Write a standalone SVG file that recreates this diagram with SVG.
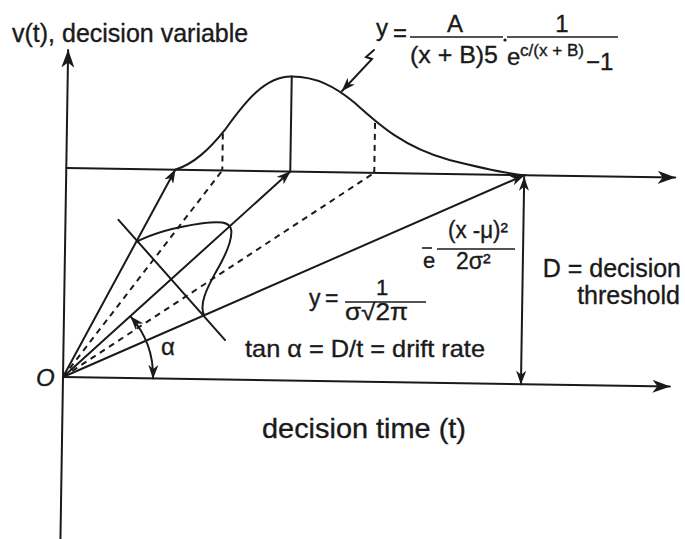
<svg xmlns="http://www.w3.org/2000/svg" width="685" height="539" viewBox="0 0 685 539">
<defs>
<marker id="ah" viewBox="0 0 14 10" refX="13.5" refY="5" markerWidth="14" markerHeight="10" markerUnits="userSpaceOnUse" orient="auto-start-reverse"><path d="M0,0 L14,5 L0,10 L4,5 Z" fill="#1a1a1a"/></marker>
<marker id="axh" viewBox="0 0 18 13" refX="17.5" refY="6.5" markerWidth="18" markerHeight="13" markerUnits="userSpaceOnUse" orient="auto"><path d="M0,0 L18,6.5 L0,13 L5,6.5 Z" fill="#1a1a1a"/></marker>
</defs>
<style>
.ln{stroke:#1a1a1a;stroke-width:2;fill:none;stroke-linecap:round}
.ds{stroke:#1a1a1a;stroke-width:2;fill:none;stroke-dasharray:6 5}
.bar{stroke:#1a1a1a;stroke-width:1.6}
text{font-family:"Liberation Sans",Arial,sans-serif;fill:#1a1a1a;stroke:#1a1a1a;stroke-width:0.35}
</style>
<rect width="685" height="539" fill="#fff"/>
<g id="plot" transform="rotate(0.9 63 377)">
 <g id="axes">
  <line class="ln" x1="63" y1="545" x2="63" y2="50" marker-end="url(#axh)"/>
  <line class="ln" x1="63" y1="377" x2="670" y2="377" marker-end="url(#axh)"/>
  <line class="ln" x1="63" y1="168" x2="672" y2="168" marker-end="url(#axh)"/>
 </g>
 <g id="connectors">
  <line class="ln" x1="63" y1="377" x2="172" y2="168" marker-end="url(#ah)"/>
  <line class="ds" x1="63" y1="377" x2="219" y2="168"/>
  <line class="ln" x1="63" y1="377" x2="287" y2="168" marker-end="url(#ah)"/>
  <line class="ds" x1="63" y1="377" x2="371" y2="168"/>
  <line class="ln" x1="63" y1="377" x2="521" y2="168" marker-end="url(#ah)"/>
  <line class="ln" x1="521" y1="170" x2="521" y2="377" marker-start="url(#ah)" marker-end="url(#ah)"/>
  <path class="ln" d="M129.7 315.5 A90 90 0 0 1 153 377" marker-start="url(#ah)" marker-end="url(#ah)"/>
 </g>
 <g id="bell-curve">
  <path class="ln" d="M172 168 C190 162,205 148,222 126 C240 100,260 73,287 73 C312 73,330 82,350 98 C375 120,400 142,446 154 C480 162,505 167,522 168"/>
  <line class="ln" x1="287" y1="73" x2="287" y2="168"/>
  <line class="ds" x1="219" y1="131" x2="219" y2="168"/>
  <line class="ds" x1="371" y1="118" x2="371" y2="168"/>
 </g>
 <g id="skew-distribution">
  <line class="ln" x1="116" y1="219" x2="224.5" y2="337.5"/>
  <path class="ln" d="M134.5 240.6 C150 232,175 225,200 221 C215 219,228 218,229 228 C230 240,222 256,214 270 C205 287,198 302,203 313"/>
 </g>
</g>
<g id="pointer">
 <path class="ln" d="M374 50 L366 57 L372 59 L342 91" marker-end="url(#ah)"/>
</g>
<g id="labels">
 <text x="12" y="42" font-size="25">v(t), decision variable</text>
 <text x="36" y="386" font-size="24" font-style="italic">O</text>
 <text x="161" y="355" font-size="24">α</text>
 <text x="245" y="357" font-size="24" textLength="240" lengthAdjust="spacingAndGlyphs">tan α = D/t = drift rate</text>
 <text x="681" y="277" font-size="25" text-anchor="end">D = decision</text>
 <text x="680" y="304" font-size="25" text-anchor="end">threshold</text>
 <text x="262" y="438" font-size="28" textLength="204" lengthAdjust="spacingAndGlyphs">decision time (t)</text>
</g>
<g id="formula-top">
 <text x="376" y="36" font-size="24">y</text>
 <text x="393" y="41" font-size="24">=</text>
 <text x="455" y="32" font-size="24" text-anchor="middle">A</text>
 <line class="bar" x1="410" y1="37" x2="503" y2="37"/>
 <text x="410" y="63" font-size="24" textLength="88" lengthAdjust="spacingAndGlyphs">(x + B)5</text>
 <circle cx="505" cy="40" r="1.6" fill="#1a1a1a"/>
 <line class="bar" x1="507" y1="37" x2="618" y2="37"/>
 <text x="562" y="32" font-size="24" text-anchor="middle">1</text>
 <text x="507" y="65" font-size="24">e</text>
 <text x="520" y="56" font-size="16" textLength="64" lengthAdjust="spacingAndGlyphs">c/(x + B)</text>
 <text x="586" y="70" font-size="24">−1</text>
</g>
<g id="formula-normal">
 <text x="309" y="306" font-size="23">y</text>
 <text x="325" y="306" font-size="23">=</text>
 <line class="bar" x1="345" y1="302" x2="426" y2="302"/>
 <text x="382" y="295" font-size="22" text-anchor="middle">1</text>
 <text x="345" y="320" font-size="23" textLength="63" lengthAdjust="spacingAndGlyphs">σ√2π</text>
 <line class="bar" x1="422" y1="248" x2="432" y2="248"/>
 <text x="423" y="268" font-size="22">e</text>
 <text x="448" y="238" font-size="23" textLength="60" lengthAdjust="spacingAndGlyphs">(x -μ)²</text>
 <line class="bar" x1="437" y1="249" x2="515" y2="249"/>
 <text x="456" y="269" font-size="23">2σ²</text>
</g>
</svg>
